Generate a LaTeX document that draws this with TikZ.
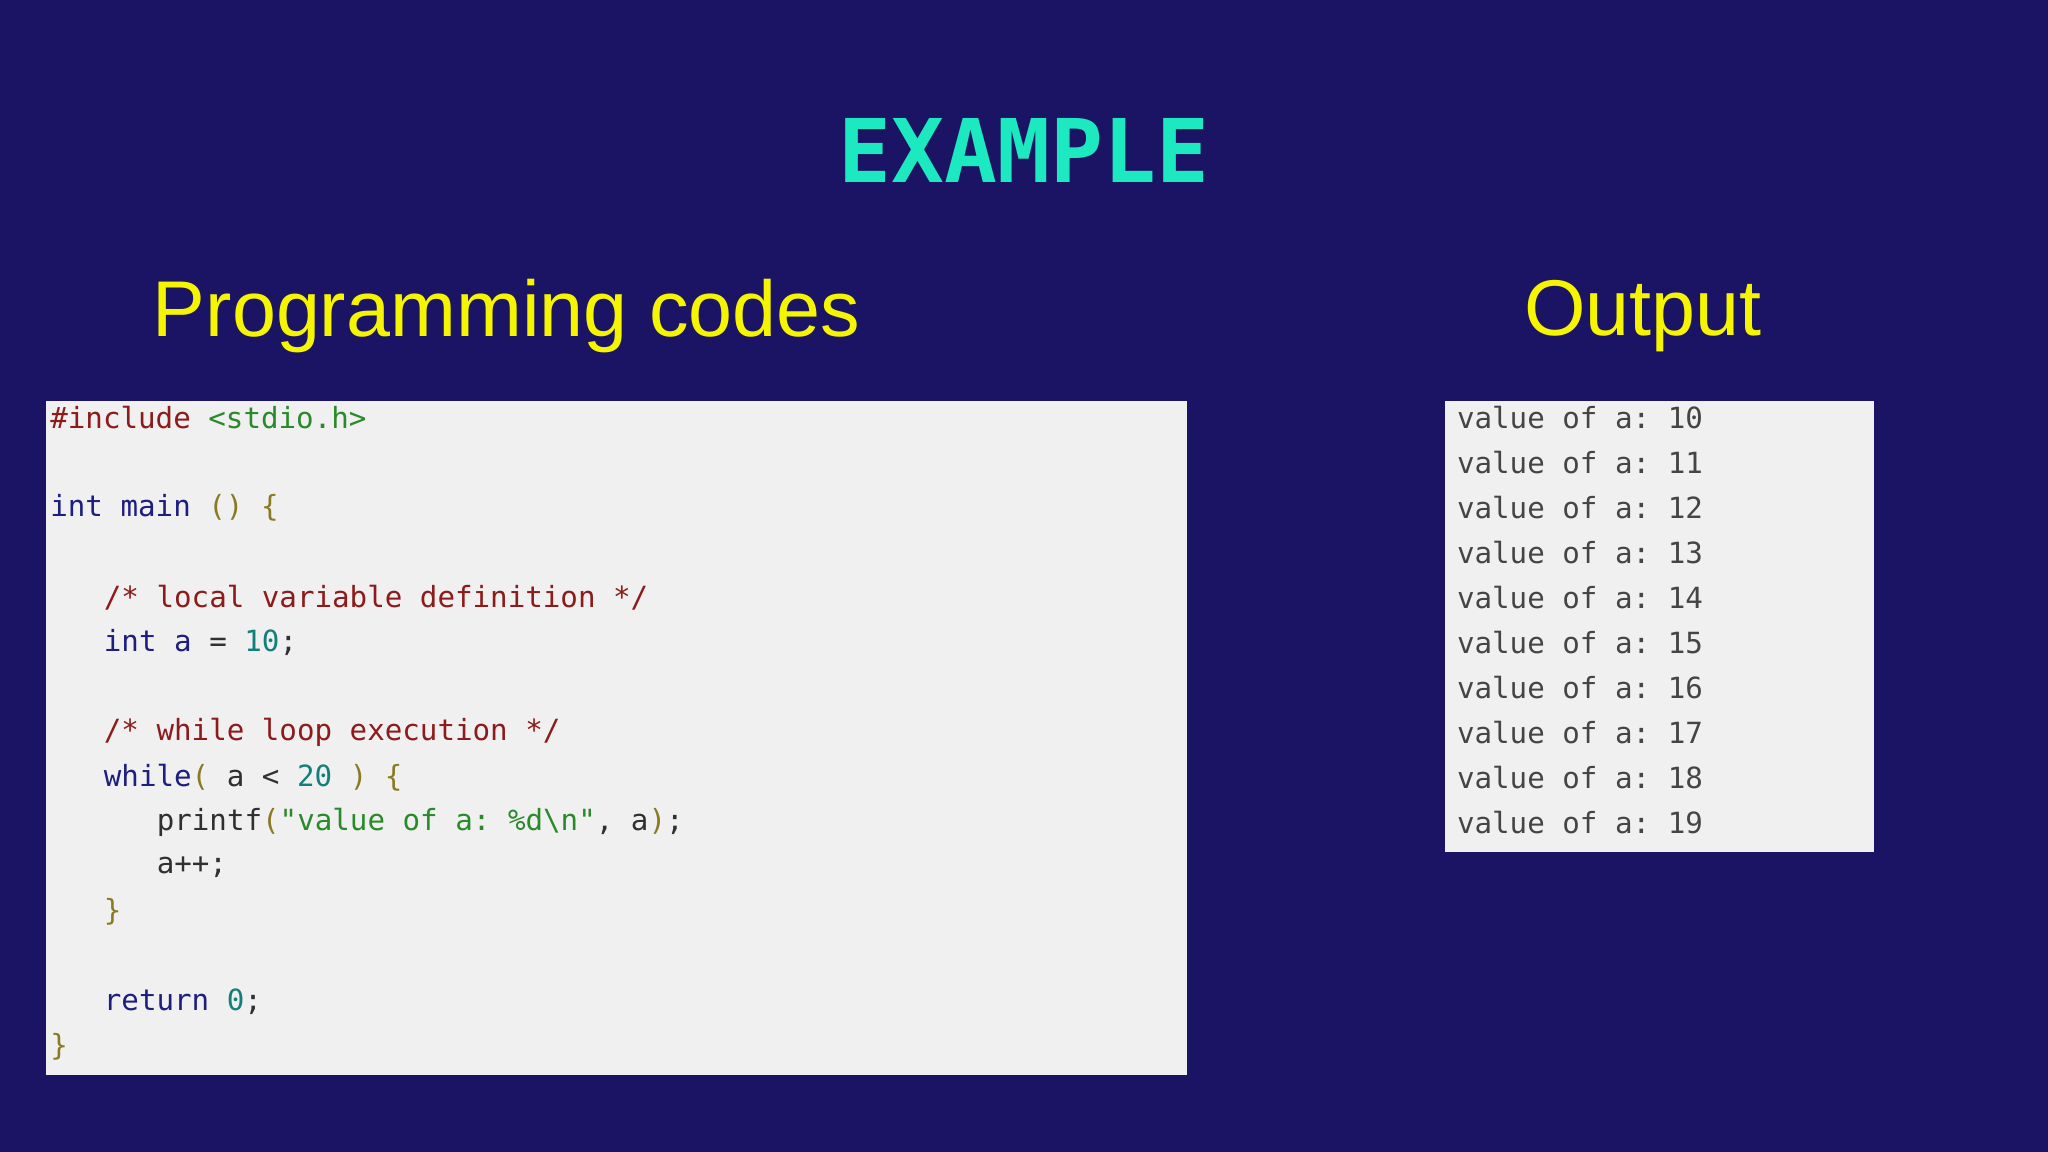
\documentclass[tikz,border=0pt]{standalone}
\usepackage{fontspec}
\setmainfont{Liberation Sans}
\newfontfamily\codefont{DejaVu Sans Mono}
\newfontfamily\titlefont{DejaVu Sans Mono}
\frenchspacing
\definecolor{bg}{HTML}{1B1464}
\definecolor{boxc}{HTML}{F0F0F0}
\definecolor{kw}{HTML}{1E1E80}
\definecolor{cm}{HTML}{8E1B1B}
\definecolor{st}{HTML}{2A8A2A}
\definecolor{nm}{HTML}{12807A}
\definecolor{br}{HTML}{8A7A22}
\definecolor{pl}{HTML}{303030}
\definecolor{ttl}{HTML}{1DE9C0}
\definecolor{yel}{HTML}{F5F500}
\begin{document}
\begin{tikzpicture}[x=0.0130612cm,y=-0.0130612cm,
  code/.style={anchor=west,inner sep=0,font=\codefont\fontsize{8.3}{10}\selectfont,text=pl},
  head/.style={font=\fontsize{22.5}{26}\selectfont,text=yel}]
\fill[bg] (0,0) rectangle (1568,882);
\useasboundingbox (0,0) rectangle (1568,882);
\node[font=\titlefont\bfseries\fontsize{25}{30}\selectfont,text=ttl] (title) at (784,115) {EXAMPLE};
\node[head] (h1) at (388,242) {Programming codes};
\node[head] (h2) at (1258,242) {Output};
\fill[boxc] (35,307) rectangle (909,823);
\fill[boxc] (1106,307) rectangle (1435,652);
\node[code] (c0) at (38,320) {\textcolor{cm}{\#include} \textcolor{st}{<stdio.h>}};
\node[code] (c2) at (38,{320+34.4*2}) {\textcolor{kw}{int main} \textcolor{br}{() \{}};
\node[code] (c4) at (79,{320+34.4*4}) {\textcolor{cm}{/* local variable definition */}};
\node[code] (c5) at (79,{320+34.4*5}) {\textcolor{kw}{int a} = \textcolor{nm}{10};};
\node[code] (c7) at (79,{320+34.4*7}) {\textcolor{cm}{/* while loop execution */}};
\node[code] (c8) at (79,{320+34.4*8}) {\textcolor{kw}{while}\textcolor{br}{(} a < \textcolor{nm}{20} \textcolor{br}{) \{}};
\node[code] (c9) at (119.5,{320+34.4*9}) {printf\textcolor{br}{(}\textcolor{st}{"value of a: \%d\textbackslash n"}, a\textcolor{br}{)};};
\node[code] (c10) at (119.5,{320+34.4*10}) {a++;};
\node[code] (c11) at (79,{320+34.4*11}) {\textcolor{br}{\}}};
\node[code] (c13) at (79,{320+34.4*13}) {\textcolor{kw}{return} \textcolor{nm}{0};};
\node[code] (c14) at (38,{320+34.4*14}) {\textcolor{br}{\}}};
\foreach \i in {0,...,9}{
  \pgfmathtruncatemacro\v{10+\i}
  \node[code,text=pl!90] (o\i) at (1115,{320+34.4*\i}) {value of a: \v};
}
\end{tikzpicture}
\end{document}
